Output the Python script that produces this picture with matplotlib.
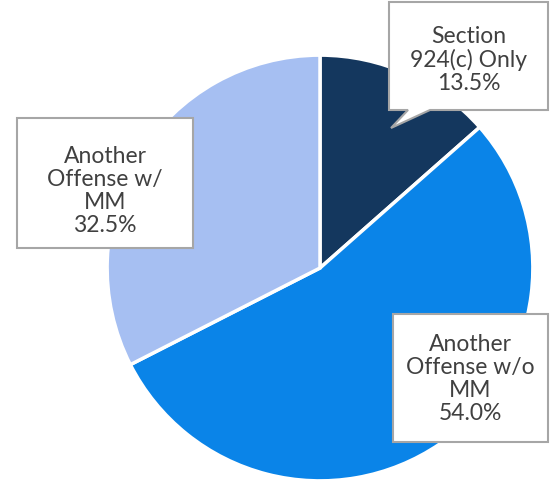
import matplotlib.pyplot as plt
from matplotlib.patches import Polygon

labels = ["Section\n924(c) Only", "Another\nOffense w/o\nMM", "Another\nOffense w/\nMM"]
shares = [13.5, 54.0, 32.5]
colors = ["#14375E", "#0A84E8", "#A6BFF2"]

W, H = 554, 487


def px(x, y):
    return x / W, 1 - y / H


fig = plt.figure(figsize=(W / 100, H / 100), dpi=100)
ax = fig.add_axes([(320 - 215) / W, (H - 268 - 215) / H, 430 / W, 430 / H])
ax.pie(shares, colors=colors, startangle=90, counterclock=False,
       wedgeprops=dict(edgecolor="white", linewidth=2.5))
ax.set_xlim(-1.01, 1.01)
ax.set_ylim(-1.01, 1.01)
ax.axis("off")

# label boxes: outline in pixel coords (with pointer for the first one)
boxes = [
    [(389, 2), (548, 2), (548, 110), (430, 110), (391, 128), (408, 110), (389, 110)],
    [(393, 314), (548, 314), (548, 442), (393, 442)],
    [(17, 118), (193, 118), (193, 248), (17, 248)],
]
centers = [(469, 60), (470, 379), (105, 191)]

for pts, (cx, cy), lab, val in zip(boxes, centers, labels, shares):
    poly = Polygon([px(x, y) for x, y in pts], closed=True, transform=fig.transFigure,
                   facecolor="white", edgecolor="#A6A6A6", linewidth=1.5, zorder=3)
    fig.patches.append(poly)
    fig.text(*px(cx, cy), f"{lab}\n{val:.1f}%", ha="center", va="center",
             fontsize=16.5, color="#404040", family="Lato", linespacing=1.13, zorder=4)

fig.savefig("out.png", dpi=100)
